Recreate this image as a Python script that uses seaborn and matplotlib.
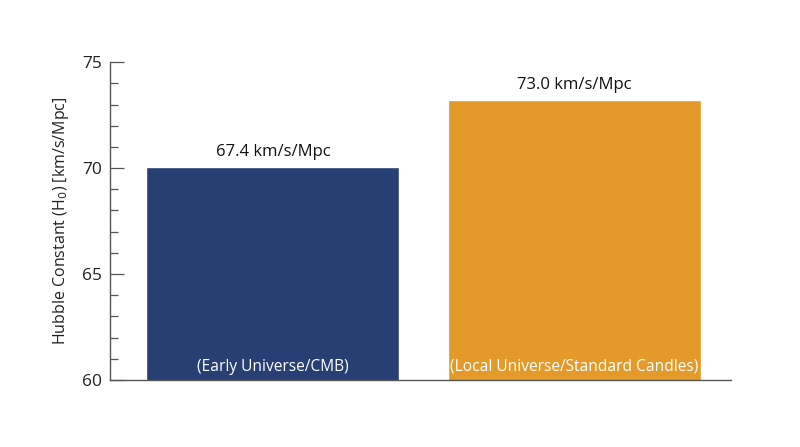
import matplotlib
matplotlib.use("Agg")
import matplotlib.pyplot as plt
import seaborn as sns
import pandas as pd
from matplotlib.ticker import MultipleLocator

categories = ["(Early Universe/CMB)", "(Local Universe/Standard Candles)"]
bar_heights = [70.05, 73.2]
value_labels = ["67.4 km/s/Mpc", "73.0 km/s/Mpc"]
colors = ["#273f73", "#e39a28"]
y_ticks = [60, 65, 70, 75]

sns.set_theme(style="white")
plt.rcParams['font.family'] = ['Open Sans', 'DejaVu Sans']

df = pd.DataFrame({"cat": categories, "h": bar_heights})

fig = plt.figure(figsize=(8, 4.47), dpi=100)
ax = fig.add_axes([0.1375, 0.150, 0.914 - 0.1375, 0.861 - 0.150])
sns.barplot(data=df, x="cat", y="h", hue="cat", palette=colors, width=0.84,
            legend=False, ax=ax, saturation=1)

ax.set_ylim(60, 75)
ax.set_xlim(-0.54, 1.52)
ax.set_yticks(y_ticks)
ax.set_yticklabels([str(t) for t in y_ticks], fontsize=12.5, color="#222222")
ax.yaxis.set_minor_locator(MultipleLocator(1))
ax.tick_params(axis="y", which="major", direction="in", length=10, width=0.9,
               color="#555555", left=True, pad=6)
ax.tick_params(axis="y", which="minor", direction="in", length=5.5, width=0.9,
               color="#555555", left=True)
ax.set_xticks([])
ax.set_xlabel("")
ax.set_ylabel("Hubble Constant (H$_0$) [km/s/Mpc]", fontsize=11.5, color="#222222", labelpad=8)

for s in ["top", "right"]:
    ax.spines[s].set_visible(False)
for s in ["left", "bottom"]:
    ax.spines[s].set_color("#555555")
    ax.spines[s].set_linewidth(1.0)

for i, (h, lab, cat) in enumerate(zip(bar_heights, value_labels, categories)):
    ax.text(i, h + 0.35, lab, ha="center", va="bottom", fontsize=12, color="#111111")
    ax.text(i, 60.25, cat, ha="center", va="bottom", fontsize=11.2, color="white")

fig.savefig("out.png", dpi=100)
